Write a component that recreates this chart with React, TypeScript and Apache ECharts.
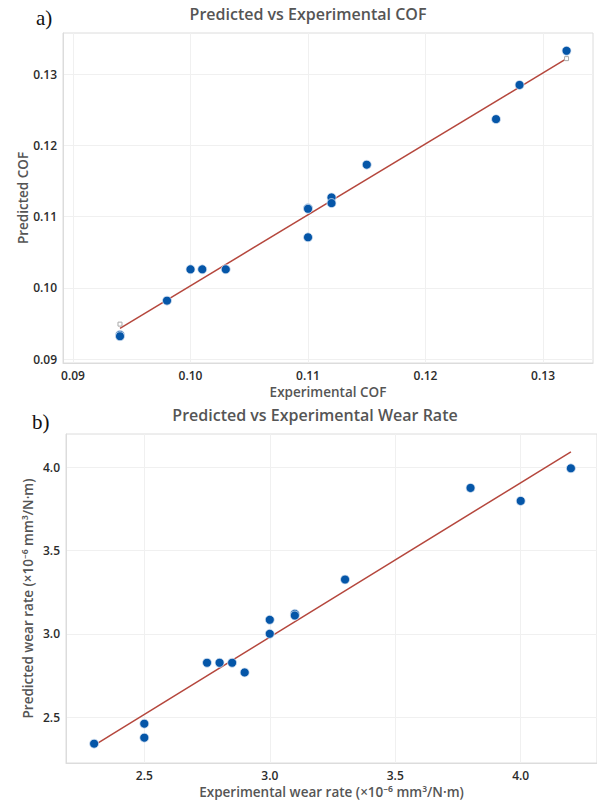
import React, { useEffect, useRef } from "react";
import * as echarts from "echarts";

// ---- Data (a) COF ----
const cofExperimental = [0.094, 0.094, 0.098, 0.1, 0.101, 0.103, 0.11, 0.11, 0.11, 0.112, 0.112, 0.115, 0.126, 0.128, 0.132];
const cofPredicted = [0.0934, 0.0932, 0.0982, 0.1026, 0.1026, 0.1026, 0.1112, 0.1111, 0.1071, 0.1127, 0.1119, 0.1173, 0.1237, 0.1285, 0.1333];
const cofFitX = [0.094, 0.132];
const cofFitY = [0.0943, 0.1322];
const cofEndMarksX = [0.094, 0.132];
const cofEndMarksY = [0.0949, 0.1322];
const cofTicks = [0.09, 0.1, 0.11, 0.12, 0.13];

// ---- Data (b) Wear rate ----
const wearExperimental = [2.3, 2.5, 2.5, 2.75, 2.8, 2.85, 2.9, 3.0, 3.0, 3.1, 3.1, 3.3, 3.8, 4.0, 4.2];
const wearPredicted = [2.34, 2.46, 2.376, 2.826, 2.826, 2.826, 2.768, 3.084, 3.0, 3.12, 3.11, 3.326, 3.876, 3.798, 3.994];
const wearFitX = [2.3, 4.2];
const wearFitY = [2.33, 4.093];
const wearTicks = [2.5, 3.0, 3.5, 4.0];

const FONT = "'Open Sans', 'Noto Sans', 'DejaVu Sans', sans-serif";
const POINT = "#0556a8";
const FIT = "#b5473d";

const zip = (a: number[], b: number[]) => a.map((v, i) => [v, b[i]]);

export default function App() {
  const ref = useRef<HTMLDivElement>(null);
  useEffect(() => {
    if (!ref.current) return;
    const chart = echarts.init(ref.current, null, { renderer: "svg" });
    const axisCommon = (ticks: number[], digits: number) => ({
      type: "value" as const,
      axisLine: { show: true, lineStyle: { color: "#dcdcdc", width: 1 } },
      axisTick: { show: false, customValues: ticks },
      axisLabel: {
        customValues: ticks,
        formatter: (v: number) => v.toFixed(digits),
        color: "#2b2b2b",
        fontSize: 12,
        fontWeight: 600,
        fontFamily: FONT,
        margin: 6,
      },
      splitLine: { show: true, lineStyle: { color: "#f0f0f0", width: 1 } },
      nameLocation: "middle" as const,
      nameTextStyle: { color: "#555", fontSize: 13.5, fontWeight: 600, fontFamily: FONT },
    });
    const pointStyle = { color: POINT, opacity: 1, borderColor: "#dfe9f5", borderWidth: 0.8 };
    chart.setOption({
      animation: false,
      backgroundColor: "#fff",
      grid: [
        { left: 63, top: 33, width: 530, height: 330, show: true, borderColor: "#dcdcdc", borderWidth: 1 },
        { left: 66, top: 434, width: 531, height: 329, show: true, borderColor: "#dcdcdc", borderWidth: 1 },
      ],
      xAxis: [
        { ...axisCommon(cofTicks, 2), gridIndex: 0, min: 0.08915, max: 0.13425, name: "Experimental COF", nameGap: 22 },
        { ...axisCommon(wearTicks, 1), gridIndex: 1, min: 2.188, max: 4.304, name: "Experimental wear rate (×10⁻⁶ mm³/N·m)", nameGap: 22 },
      ],
      yAxis: [
        { ...axisCommon(cofTicks, 2), gridIndex: 0, min: 0.08944, max: 0.1358, name: "Predicted COF", nameGap: 33, nameMoveOverlap: false },
        { ...axisCommon(wearTicks, 1), gridIndex: 1, min: 2.224, max: 4.2, name: "Predicted wear rate (×10⁻⁶ mm³/N·m)", nameGap: 31, nameMoveOverlap: false },
      ],
      series: [
        {
          type: "line", xAxisIndex: 0, yAxisIndex: 0, data: zip(cofFitX, cofFitY),
          showSymbol: false, lineStyle: { color: FIT, width: 1.5 }, z: 2,
        },
        {
          type: "scatter", xAxisIndex: 0, yAxisIndex: 0, data: zip(cofEndMarksX, cofEndMarksY),
          symbol: "rect", symbolSize: 4, itemStyle: { color: "#fff", opacity: 1, borderColor: "#aaa", borderWidth: 1 }, z: 3,
        },
        {
          type: "scatter", xAxisIndex: 0, yAxisIndex: 0, data: zip(cofExperimental, cofPredicted),
          symbol: "circle", symbolSize: 9, itemStyle: pointStyle, z: 4,
        },
        {
          type: "line", xAxisIndex: 1, yAxisIndex: 1, data: zip(wearFitX, wearFitY),
          showSymbol: false, lineStyle: { color: FIT, width: 1.5 }, z: 2,
        },
        {
          type: "scatter", xAxisIndex: 1, yAxisIndex: 1, data: zip(wearExperimental, wearPredicted),
          symbol: "circle", symbolSize: 9, itemStyle: pointStyle, z: 4,
        },
      ],
      graphic: [
        { type: "text", x: 36, y: 18, style: { text: "a)", font: "21px 'Liberation Serif', serif", fill: "#111", textVerticalAlign: "middle" } },
        { type: "text", x: 308, y: 14, style: { text: "Predicted vs Experimental COF", font: `600 16px ${FONT}`, fill: "#555", textAlign: "center", textVerticalAlign: "middle" } },
        { type: "text", x: 32, y: 422, style: { text: "b)", font: "21px 'Liberation Serif', serif", fill: "#111", textVerticalAlign: "middle" } },
        { type: "text", x: 315, y: 415, style: { text: "Predicted vs Experimental Wear Rate", font: `600 16px ${FONT}`, fill: "#555", textAlign: "center", textVerticalAlign: "middle" } },
      ],
    });
    return () => chart.dispose();
  }, []);
  return <div ref={ref} style={{ position: "fixed", left: 0, top: 0, width: 597, height: 805, background: "#fff" }} />;
}
